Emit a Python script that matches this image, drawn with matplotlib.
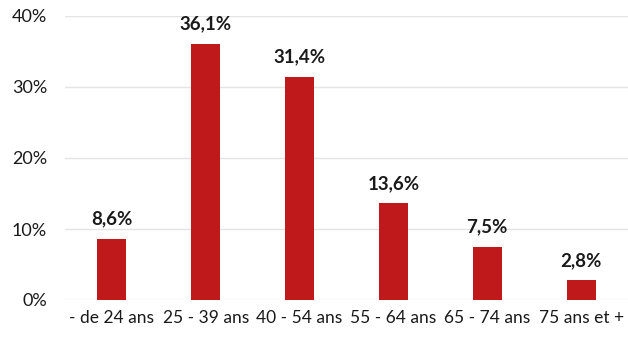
import matplotlib.pyplot as plt
from matplotlib.ticker import FuncFormatter

plt.rcParams['font.family'] = ['Lato', 'DejaVu Sans']

categories = ['- de 24 ans', '25 - 39 ans', '40 - 54 ans', '55 - 64 ans', '65 - 74 ans', '75 ans et +']
values = [8.6, 36.1, 31.4, 13.6, 7.5, 2.8]
labels = ['8,6%', '36,1%', '31,4%', '13,6%', '7,5%', '2,8%']

fig = plt.figure(figsize=(6.28, 3.38), dpi=100)
ax = fig.add_axes([65 / 628, 38 / 338, 563 / 628, 284 / 338])

x = range(len(categories))
bars = ax.bar(x, values, width=0.31, color='#c0191c', zorder=3)
for b, lab in zip(bars, labels):
    ax.text(b.get_x() + b.get_width() / 2, b.get_height() + 1.6, lab,
            ha='center', va='bottom', fontsize=13.5, fontweight='bold', color='#1a1a1a')

ax.set_ylim(0, 40)
ax.set_xlim(-0.5, len(categories) - 0.5)
ax.set_yticks([0, 10, 20, 30, 40])
ax.yaxis.set_major_formatter(FuncFormatter(lambda v, p: f'{v:.0f}%'))
ax.set_xticks(list(x))
ax.set_xticklabels(categories)
ax.tick_params(axis='both', length=0, colors='#1a1a1a')
ax.tick_params(axis='x', pad=7, labelsize=12.5)
ax.tick_params(axis='y', pad=13, labelsize=13)
ax.grid(axis='y', color='#e4e4e4', linewidth=1, zorder=0)
for s in ax.spines.values():
    s.set_visible(False)

fig.savefig('out.png', dpi=100)
